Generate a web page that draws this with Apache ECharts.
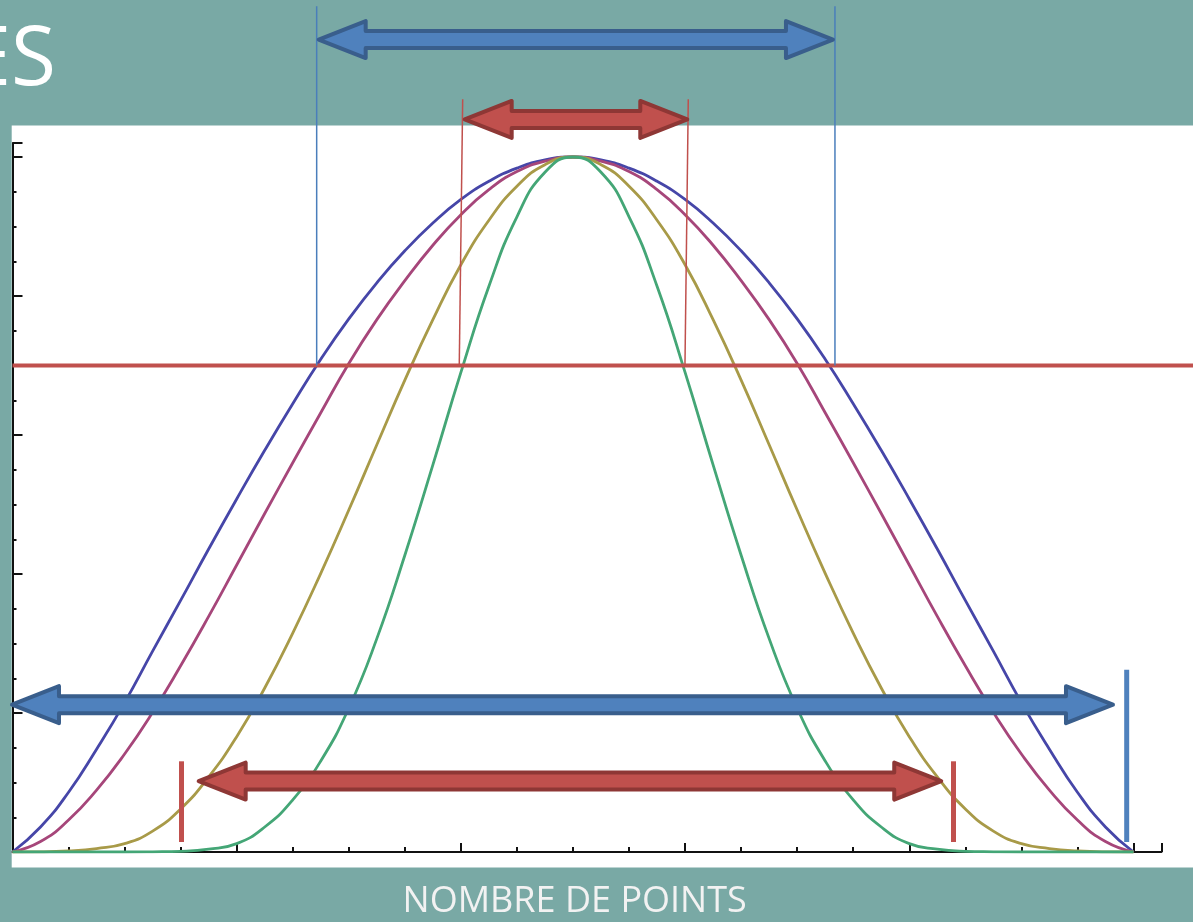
<!DOCTYPE html>
<html>
<head>
<meta charset="utf-8">
<script src="https://cdn.jsdelivr.net/npm/echarts@6/dist/echarts.min.js"></script>
<style>
  html, body { margin: 0; padding: 0; background: #79a9a5; }
  #chart { width: 1193px; height: 922px; }
</style>
</head>
<body>
<div id="chart"></div>
<script>
// abscisse (nombre de points), pas de 0.5
const xPoints = [0, 0.5, 1, 1.5, 2, 2.5, 3, 3.5, 4, 4.5, 5, 5.5, 6, 6.5, 7, 7.5, 8, 8.5, 9, 9.5, 10,
  10.5, 11, 11.5, 12, 12.5, 13, 13.5, 14, 14.5, 15, 15.5, 16, 16.5, 17, 17.5, 18, 18.5, 19, 19.5, 20];

// les quatre fenêtres
const blueCurve = [0, 0.036, 0.086, 0.148, 0.215, 0.289, 0.362, 0.436, 0.508, 0.578, 0.645, 0.709, 0.767, 0.819, 0.865, 0.905, 0.939, 0.965, 0.984, 0.996, 1,
  0.996, 0.984, 0.965, 0.939, 0.905, 0.865, 0.819, 0.767, 0.709, 0.645, 0.578, 0.508, 0.436, 0.362, 0.289, 0.215, 0.148, 0.086, 0.036, 0];
const magentaCurve = [0, 0.015, 0.046, 0.089, 0.141, 0.201, 0.268, 0.339, 0.413, 0.487, 0.56, 0.632, 0.703, 0.766, 0.822, 0.873, 0.917, 0.953, 0.979, 0.994, 1,
  0.994, 0.979, 0.953, 0.917, 0.873, 0.822, 0.766, 0.703, 0.632, 0.56, 0.487, 0.413, 0.339, 0.268, 0.201, 0.141, 0.089, 0.046, 0.015, 0];
const oliveCurve = [0, 0.0002, 0.0015, 0.005, 0.012, 0.03, 0.062, 0.108, 0.166, 0.236, 0.315, 0.401, 0.492, 0.586, 0.679, 0.766, 0.845, 0.909, 0.958, 0.989, 1,
  0.989, 0.958, 0.909, 0.845, 0.766, 0.679, 0.586, 0.492, 0.401, 0.315, 0.236, 0.166, 0.108, 0.062, 0.03, 0.012, 0.005, 0.0015, 0.0002, 0];
const greenCurve = [0, 0, 0, 0, 0, 0.0003, 0.001, 0.004, 0.012, 0.036, 0.075, 0.131, 0.207, 0.307, 0.427, 0.557, 0.69, 0.814, 0.914, 0.978, 1,
  0.978, 0.914, 0.814, 0.69, 0.557, 0.427, 0.307, 0.207, 0.131, 0.075, 0.036, 0.012, 0.004, 0.001, 0.0003, 0, 0, 0, 0, 0];

// flèches doubles : [x début, x fin, y], en unités du graphique
const arrowSpans = [
  [5.427, 14.674, 1.169],
  [8.032, 12.075, 1.054],
  [-0.045, 19.67, 0.212],
  [3.286, 16.606, 0.102]
];
const arrowKinds = ['blue', 'red', 'blue', 'red'];

// traits de repère : [x1, y1, x2, y2]
const guideLines = [
  [0, 0.7, 21.2, 0.7],
  [5.427, 1.217, 5.427, 0.7],
  [14.674, 1.217, 14.674, 0.7],
  [8.032, 1.083, 7.971, 0.701],
  [12.057, 1.083, 11.998, 0.701],
  [3.015, 0.1305, 3.015, 0.0144],
  [16.789, 0.1305, 16.789, 0.0144],
  [19.879, 0.2624, 19.879, 0.0144]
];
const guideKinds = ['redThick', 'blueThin', 'blueThin', 'redThin', 'redThin', 'redBar', 'redBar', 'blueBar'];

const guideStyles = {
  redThick: { stroke: '#c0504d', lineWidth: 4 },
  blueThin: { stroke: '#4a7ebb', lineWidth: 1.5 },
  redThin: { stroke: '#c0504d', lineWidth: 1.5 },
  redBar: { stroke: '#c0504d', lineWidth: 5 },
  blueBar: { stroke: '#4f81bd', lineWidth: 5 }
};
const arrowStyles = {
  blue: { fill: '#4f81bd', stroke: '#395e8c' },
  red: { fill: '#c0504d', stroke: '#8e3735' }
};

const chart = echarts.init(document.getElementById('chart'));

function curveSeries(values, color) {
  return {
    type: 'line',
    data: xPoints.map((x, i) => [x, values[i]]),
    showSymbol: false,
    smooth: true,
    lineStyle: { color: color, width: 2.8 },
    z: 2,
    silent: true
  };
}

function renderGuide(params, api) {
  const a = api.coord([api.value(0), api.value(1)]);
  const b = api.coord([api.value(2), api.value(3)]);
  const st = guideStyles[guideKinds[params.dataIndex]];
  return {
    type: 'line',
    shape: { x1: a[0], y1: a[1], x2: b[0], y2: b[1] },
    style: { stroke: st.stroke, lineWidth: st.lineWidth }
  };
}

function renderArrow(params, api) {
  const p1 = api.coord([api.value(0), api.value(2)]);
  const p2 = api.coord([api.value(1), api.value(2)]);
  const st = arrowStyles[arrowKinds[params.dataIndex]];
  const L = 47, H = 18.5, S = 8.5;
  const x1 = p1[0] + 2, x2 = p2[0] - 2, y = p1[1];
  return {
    type: 'polygon',
    shape: {
      points: [
        [x1, y], [x1 + L, y - H], [x1 + L, y - S], [x2 - L, y - S], [x2 - L, y - H],
        [x2, y], [x2 - L, y + H], [x2 - L, y + S], [x1 + L, y + S], [x1 + L, y + H]
      ]
    },
    style: { fill: st.fill, stroke: st.stroke, lineWidth: 4, lineJoin: 'round' }
  };
}

const option = {
  backgroundColor: '#79a9a5',
  animation: false,
  grid: { left: 12.5, right: 31.5, top: 143.1, bottom: 70 },
  graphic: [
    {
      type: 'rect', z: -10,
      shape: { x: 11.7, y: 125.5, width: 1182, height: 742 },
      style: { fill: '#ffffff' }
    },
    {
      type: 'text', z: -5,
      style: {
        text: 'ES', x: 56, y: 62, align: 'right', verticalAlign: 'middle',
        font: '82px "Open Sans"', fill: '#ffffff'
      }
    },
    {
      type: 'text', z: -5,
      style: {
        text: 'NOMBRE DE POINTS', x: 574.7, y: 902, align: 'center', verticalAlign: 'middle',
        font: '36px "Open Sans"', fill: '#f2f2f2'
      }
    }
  ],
  xAxis: {
    type: 'value', min: 0, max: 20.5, interval: 4,
    axisLine: { show: true, onZero: false, lineStyle: { color: '#111', width: 2 } },
    axisTick: { show: true, inside: true, length: 9, lineStyle: { color: '#111', width: 2 } },
    minorTick: { show: true, splitNumber: 4, length: 5, lineStyle: { color: '#111', width: 2 } },
    axisLabel: { show: false },
    splitLine: { show: false }
  },
  yAxis: {
    type: 'value', min: 0, max: 1.02, interval: 0.2,
    axisLine: { show: true, onZero: false, lineStyle: { color: '#111', width: 2 } },
    axisTick: { show: true, inside: true, length: 10, lineStyle: { color: '#111', width: 2 } },
    minorTick: { show: true, splitNumber: 4, length: 4, lineStyle: { color: '#111', width: 2 } },
    axisLabel: { show: false },
    splitLine: { show: false }
  },
  series: [
    curveSeries(blueCurve, '#4646a8'),
    curveSeries(magentaCurve, '#a6467a'),
    curveSeries(oliveCurve, '#a89a48'),
    curveSeries(greenCurve, '#44a676'),
    {
      type: 'custom',
      data: guideLines,
      encode: { x: [0, 2], y: [1, 3] },
      renderItem: renderGuide,
      clip: false,
      silent: true,
      z: 3
    },
    {
      type: 'custom',
      data: arrowSpans,
      encode: { x: [0, 1], y: 2 },
      renderItem: renderArrow,
      clip: false,
      silent: true,
      z: 4
    }
  ]
};

chart.setOption(option);
</script>
</body>
</html>
